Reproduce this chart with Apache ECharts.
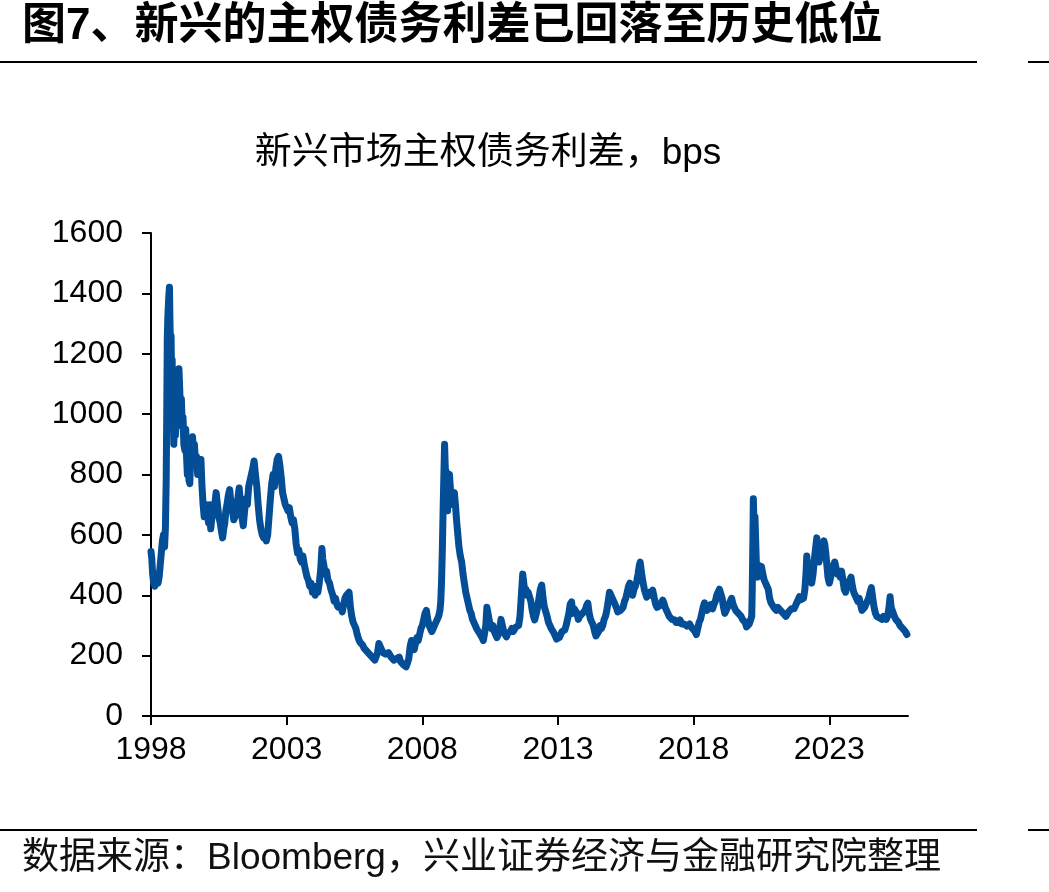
<!DOCTYPE html>
<html>
<head>
<meta charset="utf-8">
<script src="https://cdn.jsdelivr.net/npm/echarts@6/dist/echarts.min.js"></script>
<style>
html,body{margin:0;padding:0;background:#fff;}
#chart{width:1049px;height:892px;}
</style>
</head>
<body>
<div id="chart"></div>
<script>
// ---- Data ----
const pageTitle = '图7、新兴的主权债务利差已回落至历史低位';
const chartTitle = '新兴市场主权债务利差，bps';
const sourceNote = '数据来源：Bloomberg，兴业证券经济与金融研究院整理';
const yearTicks = [1998, 2003, 2008, 2013, 2018, 2023];
const spreadTicks = [0, 200, 400, 600, 800, 1000, 1200, 1400, 1600];

// [decimal year, spread in bps]
const spreads1998to2002 = [
  [1998.00,545],[1998.03,520],[1998.06,470],[1998.10,440],[1998.14,430],[1998.18,450],[1998.22,470],[1998.26,440],
  [1998.30,460],[1998.34,500],[1998.38,540],[1998.42,580],[1998.46,600],[1998.50,560],[1998.53,620],[1998.56,780],
  [1998.58,1000],[1998.60,1250],[1998.62,1320],[1998.65,1380],[1998.68,1420],[1998.70,1300],[1998.72,1200],[1998.74,1260],
  [1998.76,1100],[1998.78,1180],[1998.80,1000],[1998.82,1050],[1998.84,900],[1998.86,960],[1998.88,1020],[1998.90,930],
  [1998.93,980],[1998.96,1050],
  [1999.00,1100],[1999.03,1150],[1999.06,1080],[1999.09,1000],[1999.12,1050],[1999.15,960],[1999.18,990],[1999.21,900],
  [1999.25,880],[1999.28,950],[1999.31,860],[1999.34,800],[1999.37,850],[1999.40,780],[1999.43,770],[1999.46,850],
  [1999.50,900],[1999.53,925],[1999.56,880],[1999.60,900],[1999.64,840],[1999.68,860],[1999.72,800],[1999.76,840],
  [1999.80,820],[1999.84,850],[1999.88,760],[1999.92,700],[1999.96,660],
  [2000.00,690],[2000.04,700],[2000.08,670],[2000.12,640],[2000.16,700],[2000.20,620],[2000.25,660],[2000.30,690],
  [2000.35,700],[2000.40,740],[2000.45,700],[2000.50,660],[2000.55,640],[2000.60,610],[2000.64,590],[2000.68,620],
  [2000.72,640],[2000.76,680],[2000.80,700],[2000.85,730],[2000.90,750],[2000.95,700],
  [2001.00,680],[2001.05,650],[2001.10,660],[2001.15,700],[2001.20,720],[2001.25,755],[2001.30,700],[2001.35,660],
  [2001.40,630],[2001.45,680],[2001.50,720],[2001.55,700],[2001.60,760],[2001.65,780],[2001.70,800],[2001.75,820],
  [2001.80,845],[2001.85,800],[2001.90,760],[2001.95,700],
  [2002.00,650],[2002.05,620],[2002.10,600],[2002.15,590],[2002.20,600],[2002.25,580],[2002.30,600],[2002.35,660],
  [2002.40,720],[2002.45,770],[2002.50,800],[2002.55,760],[2002.60,820],[2002.65,850],[2002.70,860],[2002.75,830],
  [2002.80,790],[2002.85,740],[2002.90,720],[2002.95,700]
];
const spreads2003to2008 = [
  [2003.00,700],[2003.05,680],[2003.10,690],[2003.15,660],[2003.20,640],[2003.25,650],[2003.30,620],[2003.35,570],
  [2003.40,540],[2003.45,550],[2003.50,520],[2003.55,510],[2003.60,530],[2003.65,500],[2003.70,480],[2003.75,460],
  [2003.80,450],[2003.85,430],[2003.90,440],[2003.95,410],
  [2004.00,420],[2004.05,400],[2004.10,430],[2004.15,410],[2004.20,440],[2004.25,480],[2004.30,555],[2004.33,520],
  [2004.37,500],[2004.42,470],[2004.47,480],[2004.52,450],[2004.58,440],[2004.63,420],[2004.70,400],[2004.75,380],
  [2004.80,390],[2004.85,370],[2004.90,360],[2004.95,355],
  [2005.00,360],[2005.05,345],[2005.10,370],[2005.15,390],[2005.20,400],[2005.25,395],[2005.30,410],[2005.35,360],
  [2005.40,330],[2005.45,310],[2005.50,300],[2005.55,290],[2005.60,270],[2005.65,255],[2005.70,245],[2005.75,240],
  [2005.80,235],[2005.85,225],[2005.90,220],[2005.95,215],
  [2006.00,210],[2006.05,205],[2006.10,200],[2006.15,195],[2006.20,190],[2006.25,185],[2006.30,185],[2006.35,210],
  [2006.40,240],[2006.45,230],[2006.50,220],[2006.55,210],[2006.60,215],[2006.65,205],[2006.70,200],[2006.75,210],
  [2006.80,205],[2006.85,195],[2006.90,190],[2006.95,185],
  [2007.00,180],[2007.05,190],[2007.10,185],[2007.15,195],[2007.20,180],[2007.25,175],[2007.30,170],[2007.35,165],
  [2007.40,163],[2007.45,175],[2007.50,190],[2007.55,230],[2007.60,250],[2007.65,245],[2007.70,220],[2007.75,240],
  [2007.80,260],[2007.85,250],[2007.90,270],[2007.95,290],
  [2008.00,300],[2008.05,320],[2008.10,340],[2008.15,350],[2008.20,320],[2008.25,300],[2008.30,290],[2008.35,280],
  [2008.40,290],[2008.45,300],[2008.50,310],[2008.55,320],[2008.60,330],[2008.65,350],[2008.68,380],[2008.71,450],
  [2008.74,560],[2008.77,700],[2008.80,820],[2008.82,900],[2008.84,840],[2008.86,780],[2008.88,810],[2008.90,720],
  [2008.93,680],[2008.96,740]
];
const spreads2009to2014 = [
  [2009.00,800],[2009.03,760],[2009.06,720],[2009.10,740],[2009.14,700],[2009.18,740],[2009.22,700],[2009.26,650],
  [2009.30,610],[2009.35,560],[2009.40,530],[2009.45,510],[2009.50,470],[2009.55,440],[2009.60,410],[2009.65,390],
  [2009.70,370],[2009.75,350],[2009.80,340],[2009.85,320],[2009.90,310],[2009.95,300],
  [2010.00,290],[2010.05,285],[2010.10,275],[2010.15,270],[2010.20,260],[2010.25,250],[2010.30,245],[2010.34,300],
  [2010.38,360],[2010.42,340],[2010.46,320],[2010.50,300],[2010.55,290],[2010.60,300],[2010.65,280],[2010.70,270],
  [2010.75,260],[2010.80,270],[2010.85,290],[2010.90,320],[2010.95,300],
  [2011.00,280],[2011.05,270],[2011.10,262],[2011.15,275],[2011.20,270],[2011.25,280],[2011.30,290],[2011.35,280],
  [2011.40,285],[2011.45,295],[2011.50,290],[2011.55,300],[2011.60,330],[2011.65,400],[2011.70,470],[2011.74,440],
  [2011.78,410],[2011.82,420],[2011.86,400],[2011.90,410],[2011.96,415],
  [2012.00,380],[2012.05,350],[2012.10,330],[2012.14,318],[2012.20,340],[2012.25,360],[2012.30,390],[2012.35,420],
  [2012.40,434],[2012.45,390],[2012.50,360],[2012.55,345],[2012.60,330],[2012.65,310],[2012.70,300],[2012.75,290],
  [2012.80,285],[2012.85,275],[2012.90,265],[2012.95,255],
  [2013.00,250],[2013.05,260],[2013.10,270],[2013.15,280],[2013.20,275],[2013.25,285],[2013.30,300],[2013.35,320],
  [2013.40,340],[2013.45,370],[2013.50,378],[2013.55,340],[2013.60,355],[2013.65,350],[2013.70,340],[2013.75,320],
  [2013.80,330],[2013.85,335],[2013.90,340],[2013.95,345],
  [2014.00,350],[2014.05,365],[2014.10,374],[2014.15,340],[2014.20,320],[2014.25,310],[2014.30,300],[2014.35,280],
  [2014.40,265],[2014.45,260],[2014.50,280],[2014.55,300],[2014.60,290],[2014.65,300],[2014.70,320],[2014.75,330],
  [2014.80,350],[2014.85,380],[2014.90,410],[2014.95,400]
];
const spreads2015to2020 = [
  [2015.00,390],[2015.05,380],[2015.10,370],[2015.15,360],[2015.20,345],[2015.25,340],[2015.30,350],[2015.35,345],
  [2015.40,360],[2015.45,380],[2015.50,390],[2015.55,410],[2015.60,430],[2015.65,440],[2015.70,420],[2015.75,400],
  [2015.80,420],[2015.85,430],[2015.90,445],[2015.95,470],
  [2016.00,500],[2016.03,510],[2016.07,480],[2016.12,450],[2016.18,420],[2016.23,405],[2016.27,394],[2016.32,410],
  [2016.38,400],[2016.44,410],[2016.49,417],[2016.55,390],[2016.60,370],[2016.65,360],[2016.70,355],[2016.75,365],
  [2016.80,370],[2016.86,384],[2016.90,375],[2016.95,360],
  [2017.00,350],[2017.05,340],[2017.10,330],[2017.15,325],[2017.20,320],[2017.25,315],[2017.30,318],[2017.35,310],
  [2017.40,315],[2017.45,310],[2017.50,318],[2017.55,305],[2017.60,300],[2017.65,305],[2017.70,300],[2017.75,298],
  [2017.80,300],[2017.85,305],[2017.90,300],[2017.95,290],
  [2018.00,285],[2018.05,280],[2018.10,270],[2018.15,290],[2018.20,310],[2018.25,320],[2018.30,340],[2018.35,360],
  [2018.40,375],[2018.45,360],[2018.50,350],[2018.55,365],[2018.60,360],[2018.65,370],[2018.70,355],[2018.75,370],
  [2018.80,380],[2018.85,400],[2018.90,410],[2018.95,420],
  [2019.00,425],[2019.05,390],[2019.10,360],[2019.15,340],[2019.20,350],[2019.25,360],[2019.30,370],[2019.35,380],
  [2019.40,390],[2019.45,370],[2019.50,360],[2019.55,350],[2019.60,355],[2019.65,340],[2019.70,345],[2019.75,330],
  [2019.80,320],[2019.85,315],[2019.90,310],[2019.95,295],
  [2020.00,300],[2020.05,305],[2020.10,310],[2020.14,330],[2020.16,420],[2020.18,560],[2020.20,720],[2020.22,650],
  [2020.24,620],[2020.26,660],[2020.28,600],[2020.30,540],[2020.32,480],[2020.35,460],[2020.38,500],[2020.42,480],
  [2020.46,470],[2020.50,495],[2020.55,470],[2020.60,450],[2020.65,440],[2020.70,445],[2020.75,420],[2020.80,390],
  [2020.85,375],[2020.90,370],[2020.95,360]
];
const spreads2021to2025 = [
  [2021.00,355],[2021.05,350],[2021.10,360],[2021.15,365],[2021.20,350],[2021.25,345],[2021.30,340],[2021.35,335],
  [2021.40,330],[2021.45,335],[2021.50,345],[2021.55,350],[2021.60,355],[2021.65,360],[2021.70,355],[2021.75,365],
  [2021.80,375],[2021.85,385],[2021.90,395],[2021.95,385],
  [2022.00,380],[2022.05,390],[2022.10,420],[2022.14,470],[2022.17,530],[2022.20,490],[2022.25,460],[2022.30,450],
  [2022.35,440],[2022.40,470],[2022.45,520],[2022.50,560],[2022.54,590],[2022.58,560],[2022.62,510],[2022.66,530],
  [2022.70,540],[2022.75,560],[2022.80,580],[2022.83,570],[2022.87,540],[2022.91,500],[2022.95,460],
  [2023.00,440],[2023.05,460],[2023.10,480],[2023.15,500],[2023.20,510],[2023.25,490],[2023.30,470],[2023.35,480],
  [2023.40,460],[2023.45,480],[2023.50,450],[2023.55,420],[2023.60,410],[2023.65,430],[2023.70,440],[2023.75,450],
  [2023.80,460],[2023.85,430],[2023.90,410],[2023.95,400],
  [2024.00,390],[2024.05,380],[2024.10,390],[2024.15,370],[2024.20,350],[2024.25,345],[2024.30,360],[2024.35,370],
  [2024.40,380],[2024.45,390],[2024.50,410],[2024.55,425],[2024.60,390],[2024.65,360],[2024.70,340],[2024.75,330],
  [2024.80,335],[2024.85,325],[2024.90,330],[2024.95,320],
  [2025.00,330],[2025.05,325],[2025.10,320],[2025.15,330],[2025.20,360],[2025.24,395],[2025.28,360],[2025.32,350],
  [2025.36,340],[2025.40,330],[2025.45,320],[2025.50,325],[2025.55,310],[2025.60,300],[2025.65,295],[2025.70,290],
  [2025.75,285],[2025.80,280],[2025.86,270]
];

const spreadData = [].concat(spreads1998to2002, spreads2003to2008, spreads2009to2014, spreads2015to2020, spreads2021to2025);

const chart = echarts.init(document.getElementById('chart'), null, {renderer: 'canvas'});
const lineColor = '#034e96';
const txtFont = '"Liberation Sans", Arial, "Noto Sans CJK SC", sans-serif';

chart.setOption({
  animation: false,
  backgroundColor: '#ffffff',
  grid: {left: 151, right: 141, top: 233, bottom: 176, containLabel: false},
  xAxis: {
    type: 'value',
    min: 1998,
    max: 2025.9,
    interval: 5,
    axisLine: {show: true, onZero: false, lineStyle: {color: '#000', width: 2}},
    axisTick: {show: true, inside: false, length: 9, lineStyle: {color: '#000', width: 2}, customValues: yearTicks},
    axisLabel: {show: true, margin: 18, fontSize: 32, color: '#000', fontFamily: txtFont, customValues: yearTicks,
      formatter: v => String(Math.round(v))},
    splitLine: {show: false}
  },
  yAxis: {
    type: 'value',
    min: spreadTicks[0],
    max: spreadTicks[spreadTicks.length - 1],
    interval: 200,
    axisLine: {show: true, lineStyle: {color: '#000', width: 2}},
    axisTick: {show: true, inside: false, length: 9, lineStyle: {color: '#000', width: 2}},
    axisLabel: {show: true, margin: 28, fontSize: 32, color: '#000', fontFamily: txtFont,
      formatter: v => String(Math.round(v))},
    splitLine: {show: false}
  },
  series: [{
    type: 'line',
    data: spreadData,
    showSymbol: false,
    symbol: 'none',
    smooth: false,
    lineStyle: {color: lineColor, width: 7, cap: 'round', join: 'round'},
    z: 3
  }],
  graphic: [
    {type: 'text', left: 22, top: 5, style: {text: pageTitle, font: 'bold 44px "Liberation Sans", "Noto Sans CJK SC", sans-serif', fill: '#000'}},
    {type: 'line', shape: {x1: 0, y1: 62, x2: 977, y2: 62}, style: {stroke: '#000', lineWidth: 2}},
    {type: 'line', shape: {x1: 1028, y1: 62, x2: 1049, y2: 62}, style: {stroke: '#000', lineWidth: 2}},
    {type: 'text', x: 488, y: 154, style: {text: chartTitle, font: '37px "Liberation Sans", "Noto Sans CJK SC", sans-serif', fill: '#000', align: 'center', verticalAlign: 'middle'}},
    {type: 'line', shape: {x1: 0, y1: 830, x2: 977, y2: 830}, style: {stroke: '#000', lineWidth: 2}},
    {type: 'line', shape: {x1: 1028, y1: 830, x2: 1049, y2: 830}, style: {stroke: '#000', lineWidth: 2}},
    {type: 'text', x: 22, y: 859, style: {text: sourceNote, font: '37px "Liberation Sans", "Noto Sans CJK SC", sans-serif', fill: '#111', align: 'left', verticalAlign: 'middle'}}
  ]
});
</script>
</body>
</html>
